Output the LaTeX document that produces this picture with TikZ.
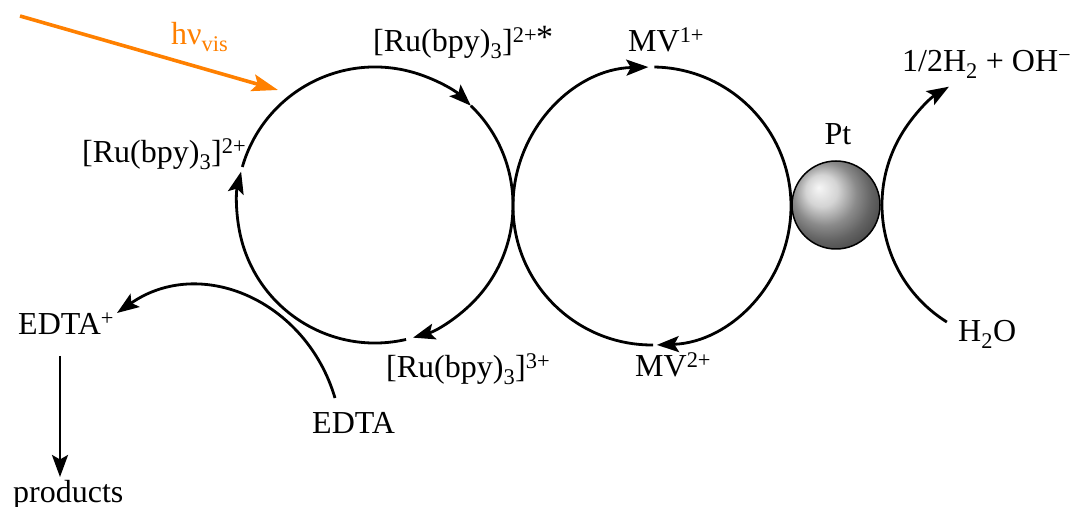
\documentclass[tikz,border=0pt]{standalone}
\usepackage{fontspec}
\setmainfont{Liberation Serif}
\usetikzlibrary{arrows.meta}
\definecolor{hvorange}{RGB}{255,128,0}
\newcommand{\mysub}[1]{\textsubscript{#1}}
\newcommand{\mysup}[1]{\textsuperscript{#1}}
\begin{document}
\begin{tikzpicture}[x=1pt,y=1pt,
  lbl/.style={inner sep=0pt, anchor=base west, font=\fontsize{32}{38}\selectfont},
  cyc/.style={line width=2.8pt},
  arr/.style={cyc,-{Stealth[length=22pt,width=16pt,inset=4.5pt]}},
  hvarr/.style={line width=3.6pt, draw=hvorange, -{Stealth[length=26pt,width=17pt,inset=5pt]}}]
\useasboundingbox (0,0) rectangle (1073,506);
% centres of the cycles
\coordinate (L) at (375,301);
\coordinate (M) at (652,300);
\coordinate (R) at (1020,301);
% labels
\node[lbl] (ruS) at (373,454) {[Ru(bpy)\mysub{3}]\mysup{2+}\raisebox{3pt}{\kern-1pt\fontsize{34}{34}\selectfont *}};
\node[lbl] (ruL) at (82,343) {[Ru(bpy)\mysub{3}]\mysup{2+}};
\node[lbl, text=hvorange] (hv) at (171,461) {hν\mysub{vis}};
\node[lbl] (mv1) at (628,454) {MV\mysup{1+}};
\node[lbl] (hh) at (902,434) {1/2H\mysub{2} + OH\mysup{−}};
\node[lbl, anchor=base] (ptl) at (838,361) {Pt};
\node[lbl] (ru3) at (386,128) {[Ru(bpy)\mysub{3}]\mysup{3+}};
\node[lbl] (mv2) at (635,129) {MV\mysup{2+}};
\node[lbl] (h2o) at (958,164) {H\mysub{2}O};
\node[lbl] (edta) at (312,73) {EDTA};
\node[lbl] (edtap) at (18,171) {EDTA\mysup{+}};
\node[lbl] (prod) at (13,4) {products};
% Pt sphere
\node[circle, draw, line width=1.5pt, minimum size=88pt, inner sep=0pt,
      shading=ball, ball color=gray!45] (pt) at (836,301) {};
% light
\coordinate (hvs) at (20,490);
\coordinate (hve) at (278,416);
\draw[hvarr] (hvs) -- (hve);
% left cycle
\draw[arr] (L) ++(164:138) arc[start angle=164, end angle=46, radius=138];
\draw[arr] (L) ++(46:138) arc[start angle=46, end angle=-74, radius=138];
\draw[arr] (L) ++(-77:138) arc[start angle=-77, end angle=-194, radius=138];
% middle cycle
\draw[arr] (M) ++(89:139) arc[start angle=89, end angle=-88, radius=139];
\draw[arr] (M) ++(270.5:139) arc[start angle=270.5, end angle=91.5, radius=139];
% water reduction
\draw[arr] (R) ++(238:138) arc[start angle=238, end angle=121, radius=138];
% EDTA oxidation
\coordinate (e0) at (335,108);
\coordinate (e1) at (117,193);
\draw[arr] (e0) .. controls (306,206) and (200,251) .. (e1);
% decomposition
\coordinate (p0) at (60,150);
\coordinate (p1) at (60,29);
\draw[arr] (p0) -- (p1);
\end{tikzpicture}
\end{document}
